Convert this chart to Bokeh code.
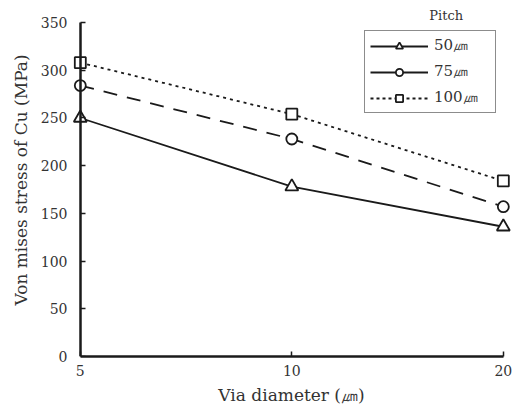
from bokeh.plotting import figure
from bokeh.models import ColumnDataSource, Range1d, Legend, LegendItem, Label, FixedTicker, LinearAxis
from bokeh.embed import file_html
from bokeh.resources import INLINE

via_labels = ["5", "10", "20"]
x_pos = [0, 1, 2]
s50 = [250, 178, 136]
s75 = [284, 228, 157]
s100 = [308, 254, 184]
pitch_labels = ["50㎛", "75㎛", "100㎛"]
y_ticks = [0, 50, 100, 150, 200, 250, 300, 350]

FONT = "DejaVu Serif"
INK = "#1a1a1a"
TXT = "#333333"

p = figure(frame_width=452, frame_height=353, output_backend="svg", toolbar_location=None,
           x_range=Range1d(-0.07, 2.067), y_range=Range1d(0, 370),
           min_border_left=65, min_border_right=1, min_border_top=3, min_border_bottom=54)
p.outline_line_color = None
p.xgrid.visible = False
p.ygrid.visible = False
p.background_fill_color = "white"
p.border_fill_color = "white"

# x axis
xa = p.xaxis[0]
xa.axis_line_width = 2.5
xa.axis_line_color = INK
xa.major_tick_in = 5
xa.major_tick_out = 0
xa.major_tick_line_color = INK
xa.major_tick_line_width = 1.5
xa.minor_tick_line_color = None
xa.major_label_text_font = FONT
xa.major_label_text_font_size = "14px"
xa.major_label_text_color = TXT
xa.axis_label_text_font = FONT
xa.axis_label_text_font_size = "17px"
xa.axis_label_text_font_style = "normal"
xa.axis_label_text_color = TXT
xa.ticker = FixedTicker(ticks=x_pos)
xa.major_label_overrides = {i: l for i, l in zip(x_pos, via_labels)}
xa.axis_label = "Via diameter (㎛)"
xa.major_label_standoff = 8
xa.axis_label_standoff = 6
xa.bounds = (0, 2)

# y axis line + tick marks (as minor ticks, no labels), placed at x = 5
ya = p.yaxis[0]
ya.fixed_location = 0
ya.bounds = (0, 350)
ya.ticker = FixedTicker(ticks=[], minor_ticks=y_ticks)
ya.axis_line_width = 2.5
ya.axis_line_color = INK
ya.major_tick_line_color = None
ya.minor_tick_in = 5
ya.minor_tick_out = 0
ya.minor_tick_line_color = INK
ya.minor_tick_line_width = 1.5
ya.major_label_standoff = 0

# y tick labels + title in the left panel
yl = LinearAxis(ticker=FixedTicker(ticks=y_ticks), axis_line_color=None,
                major_tick_line_color=None, minor_tick_line_color=None,
                major_label_text_font=FONT, major_label_text_font_size="14px",
                major_label_text_color=TXT, major_label_standoff=-8,
                axis_label="Von mises stress of Cu (MPa)", axis_label_text_font=FONT,
                axis_label_text_font_size="17px", axis_label_text_font_style="normal",
                axis_label_text_color=TXT, axis_label_standoff=7)
p.add_layout(yl, "left")

src = ColumnDataSource(dict(x=x_pos, s50=s50, s75=s75, s100=s100))

p.line("x", "s100", source=src, line_color=INK, line_width=1.8, line_dash="3 4")
p.line("x", "s75", source=src, line_color=INK, line_width=1.8, line_dash="14 10")
p.line("x", "s50", source=src, line_color=INK, line_width=1.8)
p.scatter("x", "s100", source=src, marker="square", size=11, fill_color="white", line_color=INK, line_width=1.8)
p.scatter("x", "s75", source=src, marker="circle", size=11, fill_color="white", line_color=INK, line_width=1.8)
p.scatter("x", "s50", source=src, marker="triangle", size=13, fill_color="white", line_color=INK, line_width=1.8)

# legend-only renderers (points far outside the visible ranges)
off = ColumnDataSource(dict(x=[-10, -9], y=[-100, -100]))
items = []
specs = [("triangle", None, 13), ("circle", None, 11), ("square", "3 3", 11)]
for lab, (mk, dash, sz) in zip(pitch_labels, specs):
    kw = dict(line_dash=dash) if dash else {}
    lr = p.line("x", "y", source=off, line_color=INK, line_width=1.8, **kw)
    sr = p.scatter("x", "y", source=off, marker=mk, size=sz, fill_color="white", line_color=INK, line_width=1.8)
    items.append(LegendItem(label=lab, renderers=[lr, sr], index=0))

legend = Legend(items=items, location=(299, 243), orientation="vertical",
                border_line_color=INK, border_line_width=1.6, background_fill_alpha=1,
                label_text_font=FONT, label_text_font_size="15px", label_text_color=TXT,
                glyph_width=58, glyph_height=18, label_width=56, label_height=18,
                label_standoff=6, spacing=7, padding=5, margin=0)
p.add_layout(legend, "center")

p.add_layout(Label(x=1.73, y=357, text="Pitch", text_align="center", text_baseline="middle",
                   text_font=FONT, text_font_size="13px", text_color=TXT))

open("out.html", "w").write(file_html(p, INLINE))
